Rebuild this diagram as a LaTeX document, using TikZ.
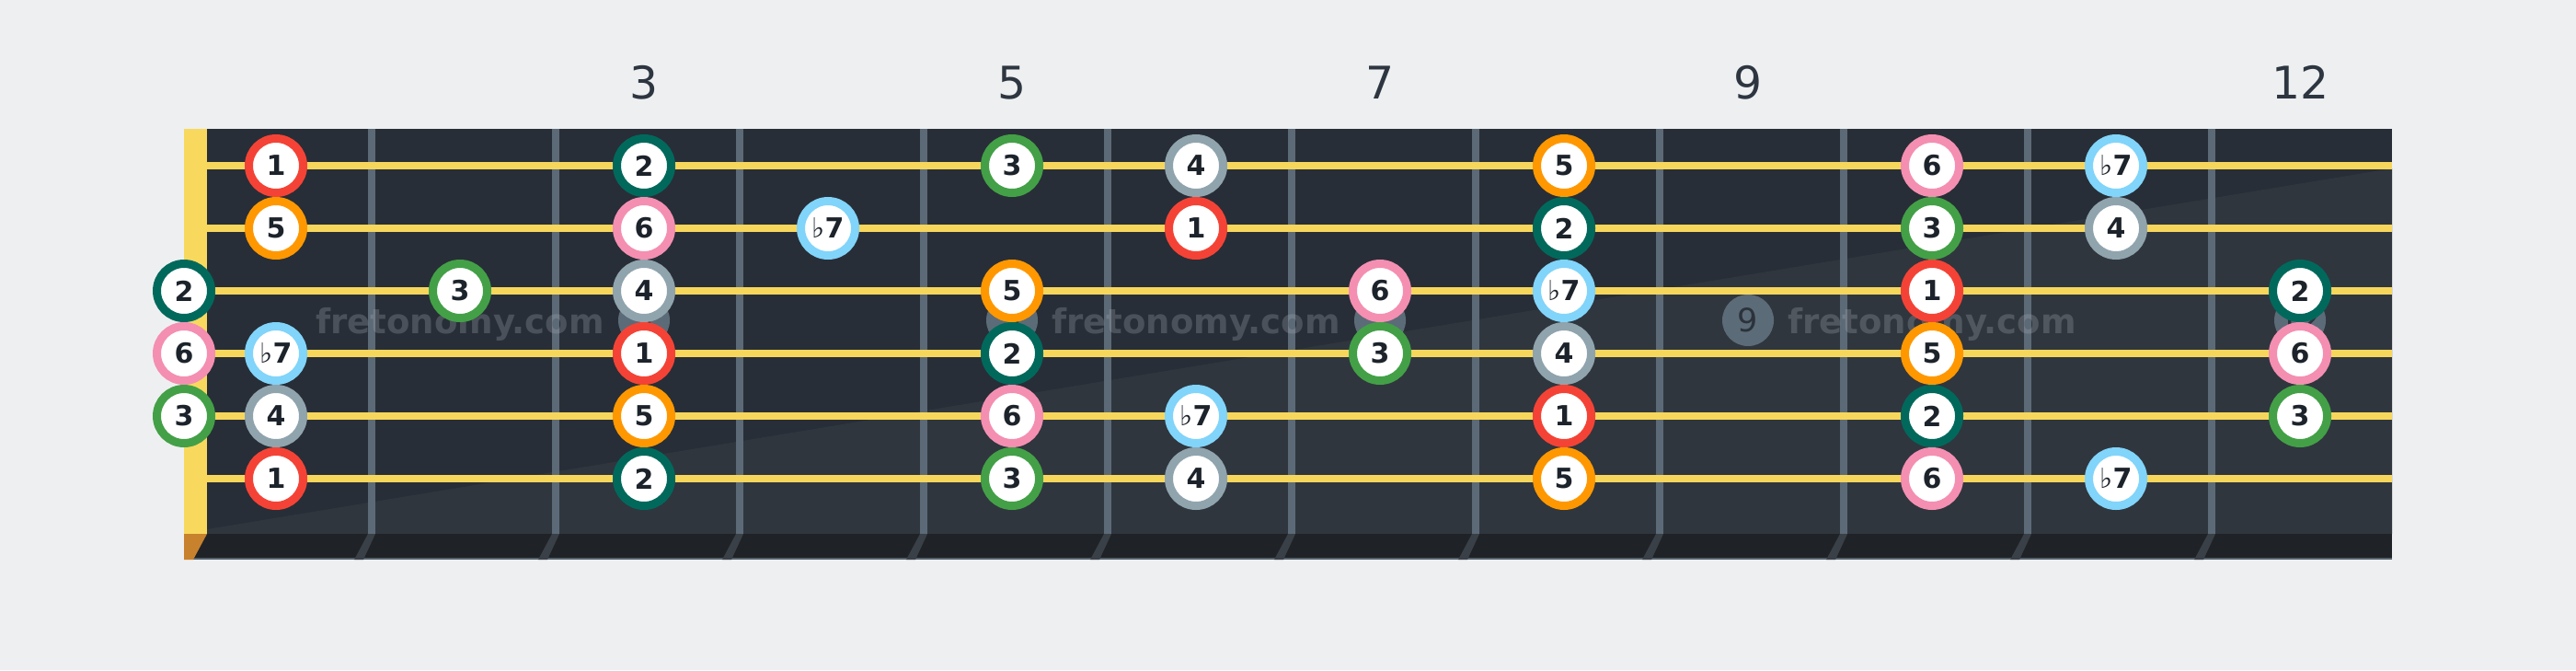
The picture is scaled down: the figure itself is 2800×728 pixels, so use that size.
\documentclass[tikz,border=0pt]{standalone}
\usepackage{fontspec}
\setmainfont{DejaVu Sans}
\definecolor{bgc}{HTML}{EEEFF1}
\definecolor{boardA}{HTML}{282E37}
\definecolor{boardB}{HTML}{30363E}
\definecolor{stripc}{HTML}{1F2327}
\definecolor{stripf}{HTML}{3A4047}
\definecolor{edgec}{HTML}{56626D}
\definecolor{fretc}{HTML}{5C6A77}
\definecolor{stringc}{HTML}{F7D65C}
\definecolor{nutc}{HTML}{F8D95E}
\definecolor{nutb}{HTML}{C8812D}
\definecolor{labc}{HTML}{2D3640}
\definecolor{inlayc}{HTML}{5C6B78}
\definecolor{inlayt}{HTML}{2B323B}
\definecolor{wmc}{HTML}{A8AEB6}
\definecolor{notet}{HTML}{1D232B}
\definecolor{cI}{HTML}{F44336}
\definecolor{cII}{HTML}{00695C}
\definecolor{cIII}{HTML}{43A047}
\definecolor{cIV}{HTML}{90A4AE}
\definecolor{cV}{HTML}{FF9800}
\definecolor{cVI}{HTML}{F48FB1}
\definecolor{cVII}{HTML}{81D4FA}
\newcommand{\flatseven}{{\mdseries ♭}7}
\tikzset{
  note/.style={circle, fill=white, draw=#1, line width=2.25pt, minimum size=14.75pt,
    inner sep=0pt, text=notet, font=\bfseries\fontsize{7.5}{7.5}\selectfont},
  fretlab/.style={anchor=base, text=labc, inner sep=0pt, font=\fontsize{12.2}{12.2}\selectfont},
  inlay/.style={circle, fill=inlayc, minimum size=14pt, inner sep=0pt, text=inlayt,
    font=\fontsize{8.75}{8.75}\selectfont},
  wmark/.style={anchor=base, inner sep=0pt, text=wmc, text opacity=0.28,
    font=\bfseries\fontsize{9.25}{9.25}\selectfont},
  stringline/.style={draw=stringc, line width=2pt},
}
\begin{document}
\begin{tikzpicture}[x=0.25pt,y=-0.25pt]
\useasboundingbox (0,0) rectangle (2800,728);
\fill[bgc] (0,0) rectangle (2800,728);
% board
\fill[boardA] (225,140) rectangle (2600,580);
\fill[boardB] (225,575) -- (2600,183) -- (2600,580) -- (225,580) -- cycle;
% bottom strip
\fill[stripc] (200,580) rectangle (2600,608);
\draw[edgec, line width=0.5pt] (200,607) -- (2600,607);
\fill[nutb] (200,580) -- (225,580) -- (210,608) -- (200,608) -- cycle;
\foreach \k in {1,...,11}{
  \fill[stripf] ({200*\k+200},580) -- ({200*\k+208},580) -- ({200*\k+195},608) -- ({200*\k+185},608) -- cycle;
}
% inlays
\foreach \f in {3,5,7,9,12}{
  \node[inlay] (inl\f) at ({100+200*\f},348) {\f};
}
% frets
\foreach \k in {1,...,11}{
  \fill[fretc] ({200*\k+200},140) rectangle ({200*\k+208},580);
}
% watermark
\foreach \x [count=\i] in {500,1300,2100}{
  \node[wmark] (wm\i) at (\x,362) {fretonomy.com};
}
% strings
\foreach \s in {1,...,6}{
  \draw[stringline] (225,{180+68*(\s-1)}) -- (2600,{180+68*(\s-1)});
}
% nut
\fill[nutc] (200,140) rectangle (225,580);
% fret numbers
\foreach \f in {3,5,7,9,12}{
  \node[fretlab] (lab\f) at ({100+200*\f},107) {\f};
}
% notes: string/fret/colour/text
\foreach \s/\f/\c/\t in {
  1/1/cI/1, 1/3/cII/2, 1/5/cIII/3, 1/6/cIV/4, 1/8/cV/5, 1/10/cVI/6, 1/11/cVII/\flatseven,
  2/1/cV/5, 2/3/cVI/6, 2/4/cVII/\flatseven, 2/6/cI/1, 2/8/cII/2, 2/10/cIII/3, 2/11/cIV/4,
  3/0/cII/2, 3/2/cIII/3, 3/3/cIV/4, 3/5/cV/5, 3/7/cVI/6, 3/8/cVII/\flatseven, 3/10/cI/1, 3/12/cII/2,
  4/0/cVI/6, 4/1/cVII/\flatseven, 4/3/cI/1, 4/5/cII/2, 4/7/cIII/3, 4/8/cIV/4, 4/10/cV/5, 4/12/cVI/6,
  5/0/cIII/3, 5/1/cIV/4, 5/3/cV/5, 5/5/cVI/6, 5/6/cVII/\flatseven, 5/8/cI/1, 5/10/cII/2, 5/12/cIII/3,
  6/1/cI/1, 6/3/cII/2, 6/5/cIII/3, 6/6/cIV/4, 6/8/cV/5, 6/10/cVI/6, 6/11/cVII/\flatseven}{
  \pgfmathsetmacro{\xx}{\f==0 ? 200 : 100+200*\f}
  \node[note=\c] (n\s-\f) at (\xx,{180+68*(\s-1)}) {\t};
}
\end{tikzpicture}
\end{document}
